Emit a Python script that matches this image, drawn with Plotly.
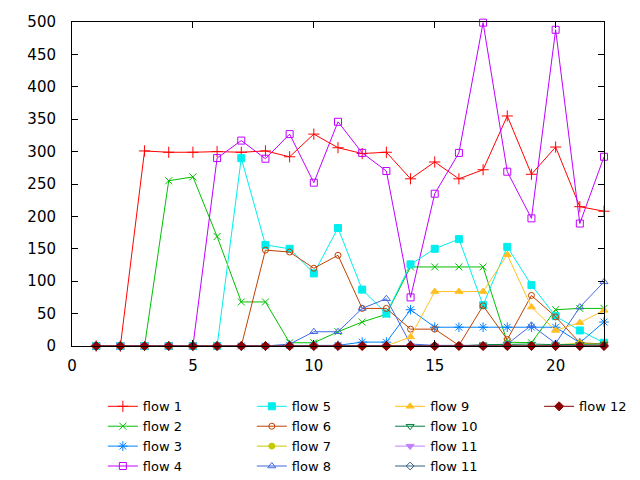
import plotly.graph_objects as go

x = list(range(1, 23))

flow1 = [0, 0, 301, 299, 299, 300, 299, 301, 292, 327, 306, 297, 299, 258, 284, 258, 272, 355, 265, 307, 215, 208]
flow2 = [0, 0, 0, 255, 261, 169, 68, 68, 5, 5, 22, 37, 49, 122, 122, 122, 122, 6, 5, 56, 58, 58]
flow3 = [0, 0, 0, 0, 0, 0, 0, 0, 1, 1, 1, 6, 6, 56, 29, 29, 29, 29, 29, 29, 5, 37]
flow4 = [0, 0, 0, 0, 0, 290, 317, 289, 327, 252, 346, 298, 270, 75, 235, 298, 499, 269, 197, 488, 189, 292]
flow5 = [0, 0, 0, 0, 0, 0, 290, 156, 150, 112, 182, 87, 50, 126, 150, 165, 63, 153, 94, 46, 24, 5]
flow6 = [0, 0, 0, 0, 0, 0, 0, 148, 145, 120, 140, 58, 58, 26, 26, 1, 62, 10, 78, 45, 5, 3]
flow7 = [0, 0, 0, 0, 0, 0, 0, 0, 0, 0, 0, 0, 0, 0, 0, 0, 0, 0, 0, 2, 4, 3]
flow8 = [0, 0, 0, 0, 0, 0, 0, 0, 3, 22, 22, 58, 73, 3, 1, 1, 1, 3, 32, 4, 60, 99]
flow9 = [0, 0, 0, 0, 0, 0, 0, 0, 0, 0, 0, 0, 0, 14, 84, 84, 84, 141, 60, 24, 36, 55]
flow10 = [0, 0, 0, 0, 0, 0, 0, 0, 0, 0, 0, 0, 0, 0, 0, 0, 2, 3, 3, 2, 2, 3]
flow11 = [0] * 22
flow11b = [0] * 22
flow12 = [0] * 22

names = ["flow 1", "flow 2", "flow 3", "flow 4", "flow 5", "flow 6", "flow 7",
         "flow 8", "flow 9", "flow 10", "flow 11", "flow 11", "flow 12"]
series = [flow1, flow2, flow3, flow4, flow5, flow6, flow7, flow8, flow9,
          flow10, flow11, flow11b, flow12]
colors = ["#ff0000", "#00c000", "#0080ff", "#c000ff", "#00eeee", "#c04000", "#c8c800",
          "#4169e1", "#ffc020", "#008040", "#c080ff", "#306080", "#8b0000"]
symbols = ["cross-thin-open", "x-thin-open", "asterisk-open", "square-open", "square",
           "circle-open", "circle", "triangle-up-open", "triangle-up", "triangle-down-open",
           "triangle-down", "diamond-open", "diamond"]
sizes = [8, 7, 8, 7, 7, 6, 6, 7, 7, 7, 7, 6, 7]
legend_of = ["legend"] * 4 + ["legend2"] * 4 + ["legend3"] * 4 + ["legend4"]

fig = go.Figure()
for n, s, c, sym, sz, lg in zip(names, series, colors, symbols, sizes, legend_of):
    fig.add_trace(go.Scatter(
        x=x, y=s, name=n, mode="lines+markers",
        line=dict(color=c, width=1),
        marker=dict(symbol=sym, size=sz, color=c, line=dict(color=c, width=1)),
        legend=lg, cliponaxis=False,
    ))

font = dict(family="DejaVu Sans", size=15, color="#000000")
lfont = dict(family="DejaVu Sans", size=13, color="#000000")
leg_common = dict(yanchor="top", xanchor="left", bgcolor="rgba(0,0,0,0)",
                  borderwidth=0, font=lfont, itemwidth=30, tracegroupgap=0)

# page body has an 8px default margin: compensate so the plot area lands at 72..604 x 22..346
fig.update_layout(
    width=632, height=472,
    margin=dict(l=64, r=36, t=14, b=134, autoexpand=False),
    paper_bgcolor="white", plot_bgcolor="white",
    font=font,
    showlegend=True,
    legend=dict(x=0.058, y=-0.14, **leg_common),
    legend2=dict(x=0.338, y=-0.14, **leg_common),
    legend3=dict(x=0.598, y=-0.14, **leg_common),
    legend4=dict(x=0.878, y=-0.14, **leg_common),
    xaxis=dict(range=[0, 22], dtick=5, tick0=0, showgrid=False, zeroline=False,
               showline=True, linecolor="black", linewidth=1, mirror="ticks",
               ticks="inside", ticklen=6, tickcolor="black", tickfont=font,
               ticklabelstandoff=6),
    yaxis=dict(range=[0, 500], dtick=50, tick0=0, showgrid=False, zeroline=False,
               showline=True, linecolor="black", linewidth=1, mirror="ticks",
               ticks="inside", ticklen=6, tickcolor="black", tickfont=font,
               ticklabelstandoff=12),
)

fig.write_html("out.html")
